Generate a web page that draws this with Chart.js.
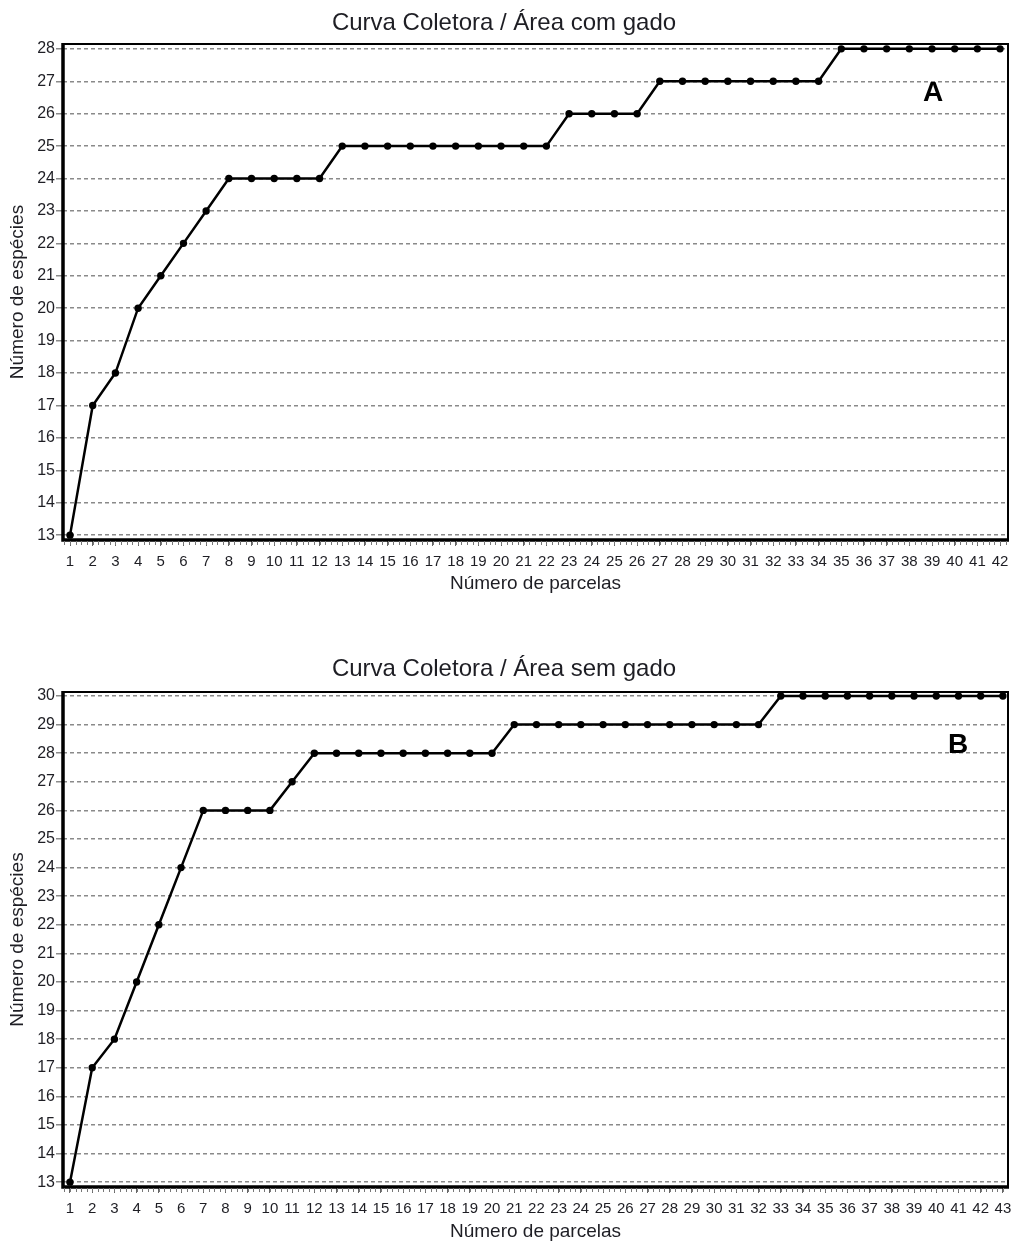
<!DOCTYPE html>
<html>
<head>
<meta charset="utf-8">
<script src="https://cdn.jsdelivr.net/npm/chart.js@4.4.1/dist/chart.umd.min.js"></script>
<style>
  html, body { margin: 0; padding: 0; background: #fff; overflow: hidden; }
  .wrap { position: absolute; left: 0; width: 1016px; height: 600px; }
  canvas { display: block; }
</style>
</head>
<body>
<div class="wrap" style="top:0px"><canvas id="chartA" width="1016" height="600"></canvas></div>
<div class="wrap" style="top:645px"><canvas id="chartB" width="1016" height="600"></canvas></div>
<script>
// ---- Data ----
const titleA = "Curva Coletora / Área com gado";
const titleB = "Curva Coletora / Área sem gado";
const xAxisTitle = "Número de parcelas";
const yAxisTitle = "Número de espécies";

const parcelasA = Array.from({length: 42}, (_, i) => i + 1);
const especiesA = [13, 17, 18, 20, 21, 22, 23, 24, 24, 24, 24, 24,
                   25, 25, 25, 25, 25, 25, 25, 25, 25, 25,
                   26, 26, 26, 26,
                   27, 27, 27, 27, 27, 27, 27, 27,
                   28, 28, 28, 28, 28, 28, 28, 28];

const parcelasB = Array.from({length: 43}, (_, i) => i + 1);
const especiesB = [13, 17, 18, 20, 22, 24, 26, 26, 26, 26, 27,
                   28, 28, 28, 28, 28, 28, 28, 28, 28,
                   29, 29, 29, 29, 29, 29, 29, 29, 29, 29, 29, 29,
                   30, 30, 30, 30, 30, 30, 30, 30, 30, 30, 30];

const yTicksA = Array.from({length: 16}, (_, i) => 13 + i);
const yTicksB = Array.from({length: 18}, (_, i) => 13 + i);

const FONT = "'Liberation Sans', Arial, sans-serif";
const TXT = '#1e1e24';

const framePlugin = {
  id: 'frame',
  afterDraw(chart, args, opts) {
    const {ctx, chartArea: a} = chart;
    ctx.save();
    ctx.strokeStyle = '#000';
    // top & right thin border
    ctx.lineWidth = 2;
    ctx.beginPath();
    ctx.moveTo(a.left, a.top); ctx.lineTo(a.right, a.top); ctx.lineTo(a.right, a.bottom);
    ctx.stroke();
    // left & bottom thick axes
    ctx.lineWidth = 3.5;
    ctx.beginPath();
    ctx.moveTo(a.left, a.top - 1); ctx.lineTo(a.left, a.bottom); ctx.lineTo(a.right + 1, a.bottom);
    ctx.stroke();
    // minor ticks on x axis
    const xs = chart.scales.x;
    ctx.strokeStyle = '#777';
    ctx.lineWidth = 1;
    for (let v = Math.ceil(xs.min * 4) / 4; v <= xs.max; v += 0.25) {
      const px = Math.round(xs.getPixelForValue(v)) + 0.5;
      ctx.beginPath();
      ctx.moveTo(px, a.bottom + 1);
      ctx.lineTo(px, a.bottom + 5);
      ctx.stroke();
    }
    // panel letter
    ctx.fillStyle = '#000';
    ctx.font = "bold 28px " + FONT;
    ctx.textAlign = 'center';
    ctx.textBaseline = 'middle';
    ctx.fillText(opts.letter, a.right - opts.dx, a.top + opts.dy);
    ctx.restore();
  }
};

function makeChart(id, title, xs, ys, yTicks, cfg) {
  return new Chart(document.getElementById(id), {
    type: 'line',
    data: {
      datasets: [{
        data: xs.map((x, i) => ({x: x, y: ys[i]})),
        borderColor: '#000',
        backgroundColor: '#000',
        borderWidth: 2.5,
        tension: 0,
        pointRadius: 3.7,
        pointHoverRadius: 3.7,
        pointBackgroundColor: '#000',
        pointBorderColor: '#000',
        pointBorderWidth: 0
      }]
    },
    options: {
      responsive: false,
      animation: false,
      events: [],
      layout: { padding: { left: 0, right: 8, top: 0, bottom: 0 } },
      plugins: {
        legend: { display: false },
        tooltip: { enabled: false },
        title: {
          display: true,
          text: title,
          color: TXT,
          font: { family: FONT, size: 24, weight: 'normal', lineHeight: 1.2 },
          padding: { top: cfg.titleTop, bottom: cfg.titleBottom }
        },
        frame: { letter: cfg.letter, dx: cfg.letterDx, dy: cfg.letterDy }
      },
      scales: {
        x: {
          type: 'linear',
          min: cfg.xMin,
          max: cfg.xMax,
          afterBuildTicks: s => { s.ticks = xs.map(v => ({value: v})); },
          afterFit: s => { s.height = cfg.xAxisH; s.paddingLeft = 0; s.paddingRight = 0; },
          grid: { drawOnChartArea: false, drawTicks: true, tickLength: 6, color: '#666', lineWidth: 1 },
          border: { display: false },
          ticks: {
            color: TXT, autoSkip: false, maxRotation: 0, padding: 7,
            font: { family: FONT, size: 15 },
            callback: v => String(v)
          },
          title: {
            display: true, text: xAxisTitle, color: TXT,
            font: { family: FONT, size: 19, lineHeight: 1.2 },
            padding: { top: 0, bottom: cfg.xTitlePad }
          }
        },
        y: {
          type: 'linear',
          min: cfg.yMin,
          max: cfg.yMax,
          afterBuildTicks: s => { s.ticks = yTicks.map(v => ({value: v})); },
          afterFit: s => { s.width = 63; s.paddingTop = 0; s.paddingBottom = 0; },
          grid: {
            drawOnChartArea: true, drawTicks: true, tickLength: 7,
            color: '#8a8a8a', lineWidth: 1.5
          },
          border: { display: false, dash: [4, 3] },
          ticks: {
            color: TXT, padding: 1,
            font: { family: FONT, size: 16 },
            callback: v => String(v)
          },
          title: {
            display: true, text: yAxisTitle, color: TXT,
            font: { family: FONT, size: 19, lineHeight: 1.2 },
            padding: { top: 6.6, bottom: 0 }
          }
        }
      }
    },
    plugins: [framePlugin]
  });
}

makeChart('chartA', titleA, parcelasA, especiesA, yTicksA, {
  titleTop: 9, titleBottom: 6.2,
  xMin: 0.69, xMax: 42.35, yMin: 12.85, yMax: 28.15,
  xAxisH: 60, xTitlePad: 4.6,
  letter: 'A', letterDx: 75, letterDy: 49
});

makeChart('chartB', titleB, parcelasB, especiesB, yTicksB, {
  titleTop: 9.6, titleBottom: 8.6,
  xMin: 0.685, xMax: 43.23, yMin: 12.83, yMax: 30.14,
  xAxisH: 58, xTitlePad: 1.6,
  letter: 'B', letterDx: 50, letterDy: 53
});
</script>
</body>
</html>
